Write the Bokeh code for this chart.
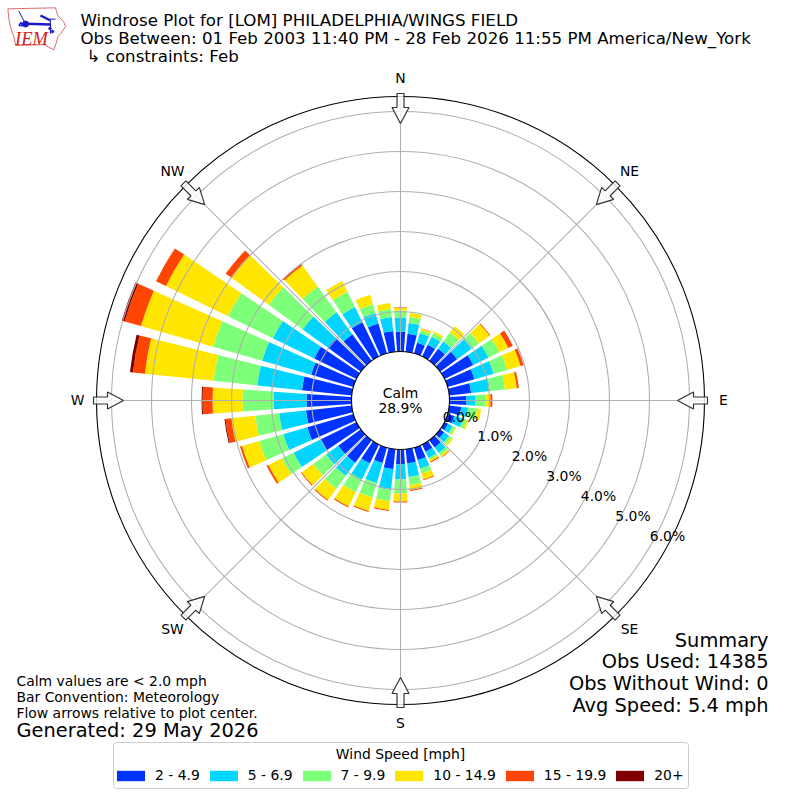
import math
from bokeh.plotting import figure
from bokeh.models import ColumnDataSource, Legend, LegendItem
from bokeh.core.properties import value
from bokeh.embed import file_html
from bokeh.resources import INLINE

directions = [10*i for i in range(1, 37)]
s_2_5 = [.45,.275,.325,.375,.525,.80,.70,.55,.425,.30,.175,.10,.125,.225,.20,.325,.35,.375,.50,.40,.525,.70,.70,1.0,1.2,1.15,1.125,1.25,1.10,1.175,1.025,.825,.95,.775,.525,.50]
s_5_7 = [.275,.25,.225,.225,.45,.425,.50,.475,.225,.175,.225,.125,.15,.175,.175,.225,.35,.375,.525,.525,.45,.40,.375,.75,.625,.675,.825,1.125,1.275,1.15,.775,.675,.425,.275,.35,.35]
s_7_10 = [.15,.075,.10,.275,.225,.30,.35,.375,.25,.225,.10,.075,.075,.075,.05,.125,.20,.35,.275,.375,.35,.40,.40,.325,.625,.60,.775,1.10,1.275,1.25,1.05,.80,.425,.225,.20,.175]
s_10_15 = [.10,.05,.05,.20,.325,.25,.35,.30,.125,.10,.05,.025,.05,.05,.05,.15,.125,.20,.225,.35,.40,.35,.35,.375,.45,.60,.75,1.725,1.875,1.725,1.15,.65,.30,.25,.15,.075]
s_15_20 = [0,.005,0,0,.025,.125,.075,.05,.05,0,0,0,0,.0125,.025,.025,.025,.025,.025,.025,.025,.025,.025,.05,.05,.15,.25,.30,.425,.275,.175,.05,0,0,0,.01]
s_20 = [0,0,0,0,0,0,0,0,0,0,0,0,0,0,0,0,0,0,0,0,0,0,0,0,0,.025,.025,.075,.075,0,0,0,0,0,0,0]
series = [s_2_5, s_5_7, s_7_10, s_10_15, s_15_20, s_20]
labels = ["2 - 4.9", "5 - 6.9", "7 - 9.9", "10 - 14.9", "15 - 19.9", "20+"]
colors = ["#0033ff", "#00d4ff", "#7dff7a", "#ffe600", "#ff4500", "#800000"]
rticks = [0, 1, 2, 3, 4, 5, 6]
compass = [("N", 0), ("NE", 45), ("E", 90), ("SE", 135), ("S", 180), ("SW", 225), ("W", 270), ("NW", 315)]

PX = 40.0          # pixels per percent
HOLE = 49 / PX     # radial offset of the zero percent circle
OUTER = 304 / PX
BAR = 8.0          # bar width, degrees
W = H = 800

def X(px): return (px - 400) / PX
def Y(py): return (400 - py) / PX
def ang(d): return math.radians(90 - d)

p = figure(width=W, height=H, x_range=(X(0), X(W)), y_range=(Y(H), Y(0)),
           output_backend="svg", toolbar_location=None, min_border=0, outline_line_color=None)
p.axis.visible = False
p.grid.visible = False
p.background_fill_color = "white"

# bars
cum = [0.0] * len(directions)
items = []
for vals, col, lab in zip(series, colors, labels):
    rows = [(d, c, v) for d, c, v in zip(directions, cum, vals)]
    src = ColumnDataSource(dict(
        inner=[HOLE + c for d, c, v in rows],
        outer=[HOLE + c + v for d, c, v in rows],
        start=[ang(d + BAR / 2) for d, c, v in rows],
        end=[ang(d - BAR / 2) for d, c, v in rows]))
    r = p.annular_wedge(x=0, y=0, inner_radius="inner", outer_radius="outer", start_angle="start",
                        end_angle="end", source=src, fill_color=col, line_color=None)
    items.append(LegendItem(label=lab, renderers=[r]))
    cum = [c + v for c, v in zip(cum, vals)]

# grid above the bars
GRID = "#b0b0b0"
for t in rticks[1:]:
    p.circle(x=[0], y=[0], radius=[HOLE + t], fill_color=None, line_color=GRID, line_width=1.1)
p.multi_line([[HOLE * math.cos(ang(d)), OUTER * math.cos(ang(d))] for _, d in compass],
             [[HOLE * math.sin(ang(d)), OUTER * math.sin(ang(d))] for _, d in compass],
             line_color=GRID, line_width=1.1)
p.circle(x=[0], y=[0], radius=[HOLE], fill_color="white", line_color="black", line_width=1.1)
p.circle(x=[0], y=[0], radius=[OUTER], fill_color=None, line_color="black", line_width=1.1)

# flow arrows
def arrow(d):
    a = ang(d); ux, uy = math.cos(a), math.sin(a); vx, vy = -uy, ux
    shape = [(307, -3.5), (293, -3.5), (293, -8.5), (277, 0), (293, 8.5), (293, 3.5), (307, 3.5)]
    return ([(r * ux + s * vx) / PX for r, s in shape], [(r * uy + s * vy) / PX for r, s in shape])
arrows = [arrow(d) for _, d in compass]
p.patches([a[0] for a in arrows], [a[1] for a in arrows], fill_color="white", fill_alpha=0.8,
          line_color="#333333", line_width=1.2)

def txt(px, py, s, size, align="left", font="DejaVu Sans", style="normal", color="black"):
    p.text(x=[X(px)], y=[Y(py)], text=[s], text_font=value(font), text_font_size=value(f"{size}px"),
           text_font_style=style, text_color=color, text_align=align, text_baseline="middle")

# compass labels
pos = {"N": (400, 77), "NE": (629, 170), "E": (723, 399), "SE": (629, 628), "S": (400, 722),
       "SW": (172, 628), "W": (77, 399), "NW": (172, 170)}
for name, _ in compass:
    txt(pos[name][0], pos[name][1], name, 13.9, "center")

# radial labels
for t in rticks:
    txt(460 + 34.5 * t, 416 + 19.9 * t, f"{t:.1f}%", 13.9, "center")

txt(400, 392, "Calm", 13.9, "center")
txt(400, 407, "28.9%", 13.9, "center")

# titles
txt(80, 20, "Windrose Plot for [LOM] PHILADELPHIA/WINGS FIELD", 16.67, "left")
txt(80, 38, "Obs Between: 01 Feb 2003 11:40 PM - 28 Feb 2026 11:55 PM America/New_York", 16.67, "left")
txt(86, 56, "\u21b3 constraints: Feb", 16.67, "left")

# summary
for py, s in zip([640, 661, 683, 705],
                 ["Summary", "Obs Used: 14385", "Obs Without Wind: 0", "Avg Speed: 5.4 mph"]):
    txt(768, py, s, 19.4, "right")

# notes
for py, s in zip([680, 696, 712],
                 ["Calm values are < 2.0 mph", "Bar Convention: Meteorology", "Flow arrows relative to plot center."]):
    txt(16, py, s, 13.9, "left")
txt(16, 730, "Generated: 29 May 2026", 19.4, "left")

# IEM logo
out = [(22,25),(165,22),(172,45),(190,65),(195,78),(180,100),(172,108),(168,125),(160,148),(145,140),(130,132),(45,135),(42,115),(30,80),(25,55),(22,25)]
p.line([X(a / 3) for a, b in out], [Y(b / 3) for a, b in out], line_color="#e06a6a", line_width=1)
BLUE = "#1a1acc"
for (pts, w) in [([(75,70),(150,72)], 2.5), ([(55,32),(75,70)], 1), ([(120,45),(150,60)], 2.5),
                 ([(148,56),(165,56)], 1), ([(150,60),(150,100)], 1), ([(55,75),(62,66),(66,76),(55,75)], 1.5)]:
    p.line([X(a / 3) for a, b in pts], [Y(b / 3) for a, b in pts], line_color=BLUE, line_width=w)
p.scatter([X(25)], [Y(23.5)], size=6, color=BLUE)
p.scatter([X(49.5), X(52)], [Y(28), Y(31)], size=2.5, color=BLUE)
txt(31, 38, "IEM", 18.5, "center", "Liberation Serif", "italic", "#d42020")

# legend
p.quad(left=[X(113)], right=[X(688)], top=[Y(742)], bottom=[Y(788)], fill_color="white", fill_alpha=0.8,
       line_color="#cccccc", line_width=1, border_radius=3)
txt(400, 753, "Wind Speed [mph]", 13.9, "center")
leg = Legend(items=items, orientation="horizontal", location=(113, 17), title=" ",
             title_text_font="DejaVu Sans", title_text_font_size="13.9px", title_text_font_style="normal",
             title_location="above", label_text_font="DejaVu Sans", label_text_font_size="13.9px",
             label_text_color="black", glyph_width=35, glyph_height=13, label_standoff=7, spacing=6,
             padding=5, margin=0, border_line_color=None, background_fill_alpha=0, label_height=14)
p.add_layout(leg)

open("out.html", "w").write(file_html(p, INLINE))
